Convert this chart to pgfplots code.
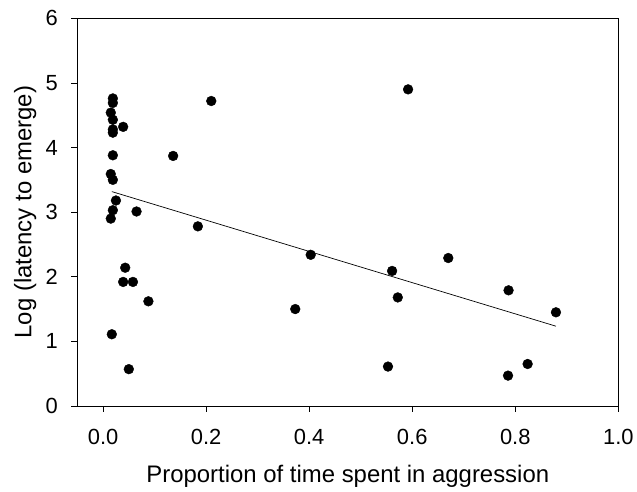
\documentclass[border=0pt]{standalone}
\usepackage{pgfplots}
\pgfplotsset{compat=1.18}
\usepackage{fontspec}
\setmainfont{Liberation Sans}
\begin{document}
\fontsize{22}{26}\selectfont
\begin{tikzpicture}[x=1bp,y=1bp]
\begin{axis}[
  name=ax,
  scale only axis,
  width=541bp, height=387.7bp,
  xmin=-0.05, xmax=1.0,
  ymin=0, ymax=6,
  xtick={0,0.2,0.4,0.6,0.8,1.0},
  ytick={0,1,2,3,4,5,6},
  axis x line*=bottom, axis y line*=left,
  tick align=outside,
  major tick length=6bp,
  tick style={black, line width=0.8bp},
  axis line style={black, line width=0.8bp},
  x tick label style={yshift=-10bp},
  xticklabel={\pgfmathprintnumber[fixed, fixed zerofill, precision=1]{\tick}},
  /pgf/number format/assume math mode=true,
  ticklabel style={font=\fontsize{22}{26}\selectfont},
  y tick label style={xshift=-6bp},
  xlabel={Proportion of time spent in aggression},
  ylabel={Log (latency to emerge)},
  label style={font=\fontsize{24}{28}\selectfont},
  xlabel style={at={(axis description cs:0.5,0)}, anchor=base, yshift=-77bp},
  ylabel style={at={(axis description cs:0,0.5)}, anchor=base, yshift=46bp},
  clip=false,
]
\draw[black, line width=0.8bp] (rel axis cs:0,1) -- (rel axis cs:1,1) -- (rel axis cs:1,0);
\addplot[only marks, mark=*, mark size=4.9bp, black] coordinates {
(0.017,1.11) (0.050,0.57) (0.015,2.90) (0.019,3.03) (0.025,3.18)
(0.019,3.50) (0.015,3.59) (0.019,3.88) (0.019,4.23) (0.019,4.28)
(0.019,4.43) (0.015,4.54) (0.019,4.69) (0.019,4.76) (0.039,4.32)
(0.043,2.14) (0.039,1.92) (0.058,1.92) (0.088,1.62) (0.065,3.01)
(0.136,3.87) (0.184,2.78) (0.210,4.72) (0.373,1.50) (0.403,2.34)
(0.553,0.61) (0.561,2.09) (0.572,1.68) (0.592,4.90) (0.670,2.29)
(0.786,0.47) (0.787,1.79) (0.824,0.65) (0.879,1.45)
};
\addplot[black, line width=0.7bp, mark=none] coordinates {(0.017,3.318) (0.879,1.235)};
\end{axis}
\pgfresetboundingbox
\path ([shift={(-77.3bp,-86bp)}]ax.south west) rectangle ([shift={(18.7bp,18.3bp)}]ax.north east);
\end{tikzpicture}
\end{document}
